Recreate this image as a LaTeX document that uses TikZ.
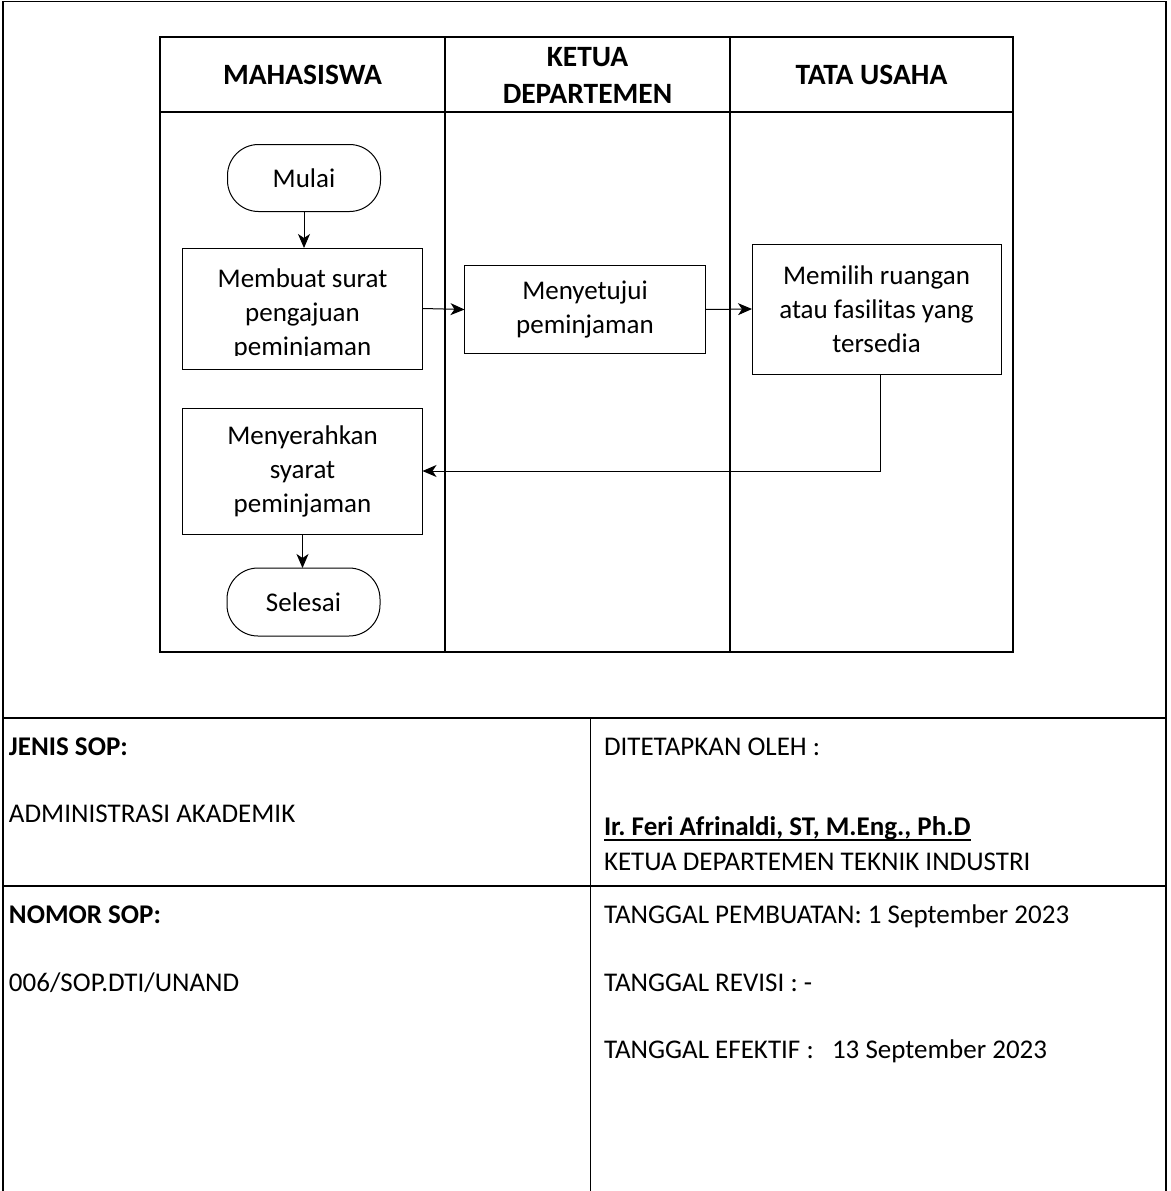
\documentclass[tikz,border=0pt]{standalone}
\usepackage{fontspec}
\setmainfont{Carlito}
\usetikzlibrary{arrows.meta}
\frenchspacing
\begin{document}
\begin{tikzpicture}[x=1pt,y=-1pt,
  every node/.style={inner sep=0pt, outer sep=0pt},
  body/.style={font=\fontsize{27}{34}\selectfont},
  head/.style={font=\fontsize{29.5}{37}\selectfont\bfseries, align=center},
  procbox/.style={draw, line width=1pt, body, align=center},
  terminal/.style={draw, line width=1pt, body, rounded corners=31pt,
    minimum width=153pt, minimum height=67pt},
  flow/.style={line width=1pt, -{Stealth[length=14pt,width=12pt,inset=4pt]}},
  grid/.style={line width=2pt},
  thin grid/.style={line width=1pt},
  info/.style={body, anchor=base west}
]
\useasboundingbox (0,0) rectangle (1170,1191);

% outer frame
\draw[line width=1.5pt] (3,1191) -- (3,1.5) -- (1166,1.5) -- (1166,1191);

% swimlane table
\draw[grid] (160,37) rectangle (1013,652);
\draw[grid] (160,112) -- (1013,112);
\draw[grid] (445,37) -- (445,652);
\draw[grid] (730,37) -- (730,652);

\node[head] (lane1) at (302.5,75) {MAHASISWA};
\node[head] (lane2) at (587.5,75) {KETUA\\DEPARTEMEN};
\node[head] (lane3) at (871.5,75) {TATA USAHA};

% process steps
\node[terminal] (mulai) at (304,178) {Mulai};
\node[procbox, minimum width=240pt, minimum height=121pt] (membuat) at (302.5,308.5) {};
\begin{scope}
  \clip ([xshift=1pt,yshift=-1pt]membuat.north west) rectangle ([xshift=-1pt,yshift=14pt]membuat.south east);
  \node[body, align=center, anchor=north] (membuattxt) at (302.5,269) {Membuat surat\\pengajuan\\peminjaman};
\end{scope}
\node[procbox, minimum width=241pt, minimum height=88pt] (menyetujui) at (585,309.5) {Menyetujui\\peminjaman};
\node[procbox, minimum width=249pt, minimum height=130pt] (memilih) at (876.5,309) {Memilih ruangan\\atau fasilitas yang\\tersedia};
\node[procbox, minimum width=240pt, minimum height=126pt] (menyerahkan) at (302.5,471) {Menyerahkan\\syarat\\peminjaman};
\node[terminal, minimum height=68pt] (selesai) at (303.5,602) {Selesai};

% connectors
\draw[flow] (mulai.south) -- (mulai.south |- membuat.north);
\draw[flow] (membuat.east) -- (menyetujui.west);
\draw[flow] (menyetujui.east) -- (memilih.west);
\draw[flow] ([xshift=3.5pt]memilih.south) |- (menyerahkan.east);
\draw[flow] (menyerahkan.south) -- (menyerahkan.south |- selesai.north);

% SOP information table
\draw[grid] (3,718) -- (1166,718);
\draw[grid] (3,886) -- (1166,886);
\draw[thin grid] (590,718) -- (590,1191);

\node[info, font=\fontsize{27}{34}\selectfont\bfseries] (jenis) at (9,755) {JENIS SOP:};
\node[info] (jenisval) at (9,822) {ADMINISTRASI AKADEMIK};
\node[info] (ditetapkan) at (604,755) {DITETAPKAN OLEH :};
\node[info, font=\fontsize{27}{34}\selectfont\bfseries] (pejabat) at (604,835) {Ir. Feri Afrinaldi, ST, M.Eng., Ph.D};
\draw[line width=2pt] ([yshift=-5pt]pejabat.base west) -- ([yshift=-5pt]pejabat.base east);
\node[info] (jabatan) at (604,870) {KETUA DEPARTEMEN TEKNIK INDUSTRI};

\node[info, font=\fontsize{27}{34}\selectfont\bfseries] (nomor) at (9,923) {NOMOR SOP:};
\node[info] (nomorval) at (9,991) {006/SOP.DTI/UNAND};
\node[info] (pembuatan) at (604,923) {TANGGAL PEMBUATAN: 1 September 2023};
\node[info] (revisi) at (604,991) {TANGGAL REVISI : -};
\node[info] (efektif) at (604,1058) {TANGGAL EFEKTIF :\ \ \ 13 September 2023};
\end{tikzpicture}
\end{document}
